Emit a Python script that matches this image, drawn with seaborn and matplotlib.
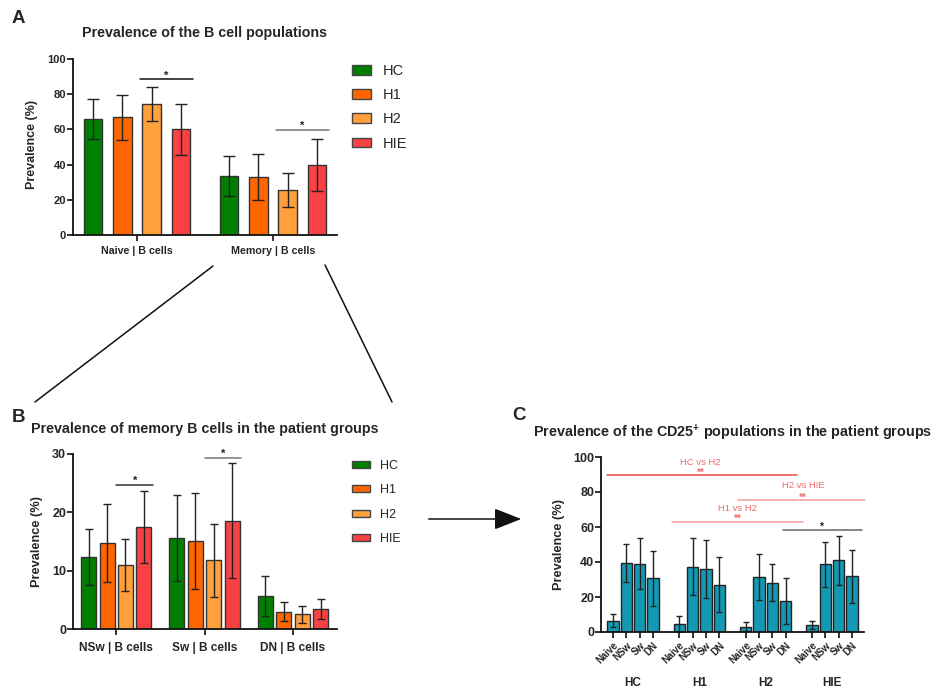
import numpy as np
import pandas as pd
import matplotlib
matplotlib.use("Agg")
import matplotlib.pyplot as plt
import matplotlib.transforms as mtransforms
from matplotlib.patches import Patch, FancyArrowPatch
from matplotlib.lines import Line2D
import seaborn as sns

groups = ["HC", "H1", "H2", "HIE"]
group_colors = ["#007f00", "#ff6600", "#ffa03c", "#f94144"]

# panel A - rows are groups, columns populations
pops_a = ["Naive | B cells", "Memory | B cells"]
mean_a = [[66.0, 33.6], [66.8, 32.9], [74.3, 25.4], [60.0, 39.6]]
sd_a = [[11.4, 11.5], [13.0, 13.2], [9.7, 9.7], [14.6, 14.7]]

# panel B
pops_b = ["NSw | B cells", "Sw | B cells", "DN | B cells"]
mean_b = [[12.3, 15.6, 5.7], [14.7, 15.1, 3.0], [11.0, 11.8, 2.5], [17.5, 18.6, 3.4]]
sd_b = [[4.8, 7.3, 3.45], [6.7, 8.2, 1.55], [4.45, 6.25, 1.4], [6.2, 9.9, 1.75]]

# panel C - CD25+ subsets per group
subsets_c = ["Naive", "NSw", "Sw", "DN"]
mean_c = [[6.5, 39.6, 39.0, 30.7], [4.4, 37.3, 36.2, 27.0], [3.0, 31.4, 28.2, 17.7], [4.2, 38.7, 41.0, 31.8]]
sd_c = [[3.8, 10.9, 14.6, 15.6], [4.5, 16.4, 16.6, 15.8], [2.7, 13.0, 10.7, 13.2], [2.3, 13.0, 14.1, 15.0]]
teal = "#1399b3"

sns.set_style("ticks")
plt.rcParams["font.family"] = ["Liberation Sans", "DejaVu Sans"]
plt.rcParams["mathtext.fontset"] = "custom"
plt.rcParams["mathtext.rm"] = "Liberation Sans"
plt.rcParams["mathtext.bf"] = "Liberation Sans:bold"
plt.rcParams["axes.linewidth"] = 1.3
plt.rcParams["axes.edgecolor"] = "#111111"

W, H = 933, 693
fig = plt.figure(figsize=(W / 100, H / 100), dpi=100)


def px_axes(x0, y0, x1, y1):
    return fig.add_axes([x0 / W, 1 - y1 / H, (x1 - x0) / W, (y1 - y0) / H])


def fpt(x, y):
    return x / W, 1 - y / H


def style_axes(ax, xsize, ysize, xpad=2):
    sns.despine(ax=ax)
    ax.tick_params(axis="both", length=4, width=1.2, color="#111111")
    ax.tick_params(axis="x", labelsize=xsize, pad=xpad)
    ax.tick_params(axis="y", labelsize=ysize, pad=1)
    for lab in ax.get_xticklabels() + ax.get_yticklabels():
        lab.set_fontweight("bold")
    ax.set_xlabel("")


def grouped_panel(ax, pops, means, sds, width, gap, capsize):
    df = pd.DataFrame({
        "population": np.tile(pops, len(groups)),
        "group": np.repeat(groups, len(pops)),
        "value": np.ravel(means),
    })
    sns.barplot(data=df, x="population", y="value", hue="group", order=pops,
                hue_order=groups, palette=group_colors, saturation=1, width=width,
                gap=gap, errorbar=None, edgecolor="#333333", linewidth=1.0,
                legend=False, ax=ax)
    for cont, sd in zip(ax.containers, sds):
        xs = [b.get_x() + b.get_width() / 2 for b in cont]
        hs = [b.get_height() for b in cont]
        ax.errorbar(xs, hs, yerr=sd, fmt="none", ecolor="#222222", elinewidth=1,
                    capsize=capsize, capthick=1, clip_on=False)


def sig_line(ax, i_pop, y, color, pad=0.02):
    left = ax.containers[2][i_pop]
    right = ax.containers[3][i_pop]
    x0 = left.get_x() - pad
    x1 = right.get_x() + right.get_width() + pad
    ax.plot([x0, x1], [y, y], color=color, lw=1.1, clip_on=False)
    ax.annotate("*", ((x0 + x1) / 2, y), xytext=(0, 0.5), textcoords="offset points",
                ha="center", va="baseline", fontsize=8, fontweight="bold",
                color="#222222")


def group_legend(ax, x, y, fontsize, hl, hh, spacing):
    handles = [Patch(facecolor=c, edgecolor="#444444", linewidth=1) for c in group_colors]
    ax.legend(handles, groups, loc="upper left", bbox_to_anchor=fpt(x, y),
              bbox_transform=fig.transFigure, frameon=False, borderpad=0,
              borderaxespad=0, fontsize=fontsize, handlelength=hl, handleheight=hh,
              handletextpad=0.8, labelspacing=spacing)


# ---------------- A ----------------
ax_a = px_axes(73, 59, 337, 235)
grouped_panel(ax_a, pops_a, mean_a, sd_a, width=0.86, gap=0.37, capsize=4)
ax_a.set_ylim(0, 100)
ax_a.set_yticks(range(0, 101, 20))
ax_a.set_xlim(-0.47, 1.47)
style_axes(ax_a, 7.7, 8, xpad=4)
ax_a.set_ylabel("Prevalence (%)", fontsize=9, fontweight="bold")
ax_a.yaxis.set_label_coords(-0.133, 0.514)
sig_line(ax_a, 0, 88.6, "#111111")
sig_line(ax_a, 1, 59.7, "#777777")
group_legend(ax_a, 352, 64, 10.5, 1.3, 0.67, 0.7)

# ---------------- B ----------------
ax_b = px_axes(73, 454, 337, 629)
grouped_panel(ax_b, pops_b, mean_b, sd_b, width=0.836, gap=0.19, capsize=2.8)
ax_b.set_ylim(0, 30)
ax_b.set_yticks([0, 10, 20, 30])
ax_b.set_xlim(-0.49, 2.5)
style_axes(ax_b, 8.6, 9, xpad=5)
ax_b.set_ylabel("Prevalence (%)", fontsize=9.2, fontweight="bold")
ax_b.yaxis.set_label_coords(-0.114, 0.5)
sig_line(ax_b, 0, 24.7, "#333333")
sig_line(ax_b, 1, 29.4, "#777777")
group_legend(ax_b, 352, 460, 9, 1.45, 0.48, 0.98)

# ---------------- C ----------------
ax_c = px_axes(601, 457, 864, 632)
order_c, labels_c, values_c, errs_c = [], [], [], []
for gi, g in enumerate(groups):
    for si, s in enumerate(subsets_c):
        order_c.append(f"{g} {s}")
        labels_c.append(s)
        values_c.append(mean_c[gi][si])
        errs_c.append(sd_c[gi][si])
    if gi < len(groups) - 1:
        order_c.append(f"gap{gi}")  # empty slot between groups
df_c = pd.DataFrame({"cell": [o for o in order_c if not o.startswith("gap")], "value": values_c})
sns.barplot(data=df_c, x="cell", y="value", order=order_c, color=teal, saturation=1,
            width=0.86, errorbar=None, edgecolor="#222222", linewidth=1.0, ax=ax_c)
bar_x = [order_c.index(c) for c in df_c["cell"]]
ax_c.errorbar(bar_x, values_c, yerr=errs_c, fmt="none", ecolor="#222222", elinewidth=1,
              capsize=2.4, capthick=1)
ax_c.set_ylim(0, 100)
ax_c.set_yticks(range(0, 101, 20))
ax_c.set_xlim(-0.9, 18.9)
ax_c.set_xticks(bar_x)
ax_c.set_xticklabels(labels_c)
style_axes(ax_c, 7, 9)
for lab in ax_c.get_xticklabels():
    lab.set_rotation(45)
    lab.set_ha("right")
    lab.set_rotation_mode("anchor")
ax_c.set_ylabel("Prevalence (%)", fontsize=9.2, fontweight="bold")
ax_c.yaxis.set_label_coords(-0.137, 0.5)

blend = mtransforms.blended_transform_factory(ax_c.transData, ax_c.transAxes)
for gi, g in enumerate(groups):
    centre = np.mean(bar_x[gi * 4:(gi + 1) * 4])
    ax_c.text(centre, -0.29, g, transform=blend, ha="center", va="center",
              fontsize=8.5, fontweight="bold")

# group comparisons drawn above the bars
comparisons = [
    (-0.45, 13.85, 89.5, "HC vs H2", 6.6, 97.7, "#e8474c"),
    (9.42, 18.96, 75.3, "H2 vs HIE", 14.3, 84.2, "#f5a0a0"),
    (4.45, 14.3, 63.1, "H1 vs H2", 9.4, 70.9, "#f5a0a0"),
]
for x0, x1, y, name, tx, ty, col in comparisons:
    ax_c.plot([x0, x1], [y, y], color=col, lw=1.1, clip_on=False)
    ax_c.text(tx, ty, name, ha="center", va="center_baseline", fontsize=6.8,
              color="#f26b6b")
    ax_c.annotate("**", (tx, y), xytext=(0, -0.5), textcoords="offset points",
                  ha="center", va="baseline", fontsize=7, fontweight="bold",
                  color="#f26b6b")
ax_c.plot([12.8, 18.76], [58.1, 58.1], color="#666666", lw=1.1, clip_on=False)
ax_c.annotate("*", (15.7, 58.1), xytext=(0, 0), textcoords="offset points",
              ha="center", va="baseline", fontsize=7.5, fontweight="bold",
              color="#222222")

# ---------------- titles, letters, connectors ----------------
fig.text(*fpt(205, 37), "Prevalence of the B cell populations", ha="center",
         va="baseline", fontsize=10.3, fontweight="bold")
fig.text(*fpt(31, 433), "Prevalence of memory B cells in the patient groups",
         ha="left", va="baseline", fontsize=10.3, fontweight="bold")
fig.text(*fpt(533, 437), r"Prevalence of the CD25$^{\mathbf{+}}$ populations in the patient groups",
         ha="left", va="baseline", fontsize=10.4, fontweight="bold")
for letter, x, y in [("A", 12, 23), ("B", 12, 422), ("C", 512, 420)]:
    fig.text(*fpt(x, y), letter, ha="left", va="baseline", fontsize=13.5, fontweight="bold")

for (x0, y0), (x1, y1) in [((213, 266), (35, 402)), ((325, 265), (392, 402))]:
    fig.add_artist(Line2D([x0 / W, x1 / W], [1 - y0 / H, 1 - y1 / H],
                          color="#111111", lw=1.1, transform=fig.transFigure))
fig.add_artist(FancyArrowPatch(fpt(426, 519), fpt(524, 519), transform=fig.transFigure,
                               arrowstyle="-|>,head_length=1.4,head_width=0.55",
                               mutation_scale=12, color="#111111", lw=1.1))

fig.savefig("out.png", dpi=100)
